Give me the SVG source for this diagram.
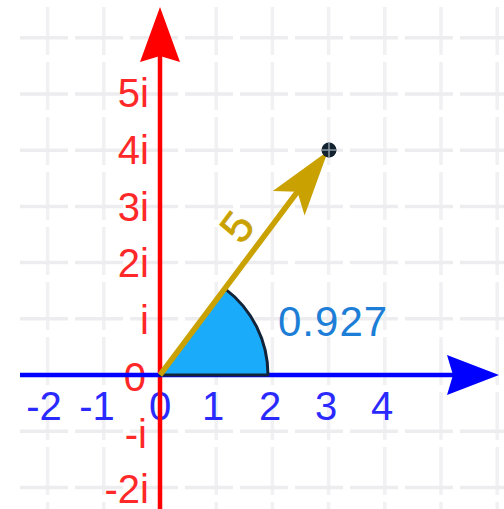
<svg xmlns="http://www.w3.org/2000/svg" width="504" height="509" viewBox="0 0 504 509">
  <style>
    .grid { stroke: #ededef; stroke-width: 3.5; stroke-dasharray: 48 7; fill: none; }
    .gv { stroke: #f1f1f3; }
    .ylab { font-family: "Liberation Sans", Arial, sans-serif; font-size: 40px; fill: #ff2828; text-anchor: end; }
    .xlab { font-family: "Liberation Sans", Arial, sans-serif; font-size: 40px; fill: #2a2aff; text-anchor: middle; }
  </style>
  <rect width="504" height="509" fill="#ffffff"/>
  <g id="grid">
    <line class="grid gv" x1="47.6" y1="7" x2="47.6" y2="509"/>
    <line class="grid gv" x1="103.8" y1="7" x2="103.8" y2="509"/>
    <line class="grid gv" x1="216.2" y1="7" x2="216.2" y2="509"/>
    <line class="grid gv" x1="272.4" y1="7" x2="272.4" y2="509"/>
    <line class="grid gv" x1="328.6" y1="7" x2="328.6" y2="509"/>
    <line class="grid gv" x1="384.8" y1="7" x2="384.8" y2="509"/>
    <line class="grid gv" x1="441" y1="7" x2="441" y2="509"/>
    <line class="grid gv" x1="497.2" y1="7" x2="497.2" y2="509"/>
    <line class="grid" x1="20" y1="37.8" x2="504" y2="37.8"/>
    <line class="grid" x1="20" y1="94" x2="504" y2="94"/>
    <line class="grid" x1="20" y1="150.2" x2="504" y2="150.2"/>
    <line class="grid" x1="20" y1="206.4" x2="504" y2="206.4"/>
    <line class="grid" x1="20" y1="262.6" x2="504" y2="262.6"/>
    <line class="grid" x1="20" y1="318.8" x2="504" y2="318.8"/>
    <line class="grid" x1="20" y1="431.2" x2="504" y2="431.2"/>
    <line class="grid" x1="20" y1="487.4" x2="504" y2="487.4"/>
  </g>
  <g id="y-labels">
    <text class="ylab" x="149" y="107">5i</text>
    <text class="ylab" x="149" y="164">4i</text>
    <text class="ylab" x="149" y="221">3i</text>
    <text class="ylab" x="149" y="277">2i</text>
    <text class="ylab" x="149" y="334">i</text>
    <text class="ylab" x="146" y="391">0</text>
    <text class="ylab" x="147" y="448">-i</text>
    <text class="ylab" x="149" y="503">-2i</text>
  </g>
  <g id="x-labels">
    <text class="xlab" x="44" y="420">-2</text>
    <text class="xlab" x="97" y="420">-1</text>
    <text class="xlab" x="160" y="420">0</text>
    <text class="xlab" x="213" y="420">1</text>
    <text class="xlab" x="270" y="420">2</text>
    <text class="xlab" x="326" y="420">3</text>
    <text class="xlab" x="382" y="420">4</text>
  </g>
  <g id="imaginary-axis">
    <line x1="160" y1="509" x2="160" y2="55" stroke="#ff0000" stroke-width="4.5"/>
    <path d="M160,7 L180,62 L160,56 L140,62 Z" fill="#ff0000"/>
  </g>
  <g id="real-axis">
    <line x1="20" y1="375" x2="455" y2="375" stroke="#0000ff" stroke-width="4.5"/>
    <path d="M499,375 L447,395 L453,375 L447,355 Z" fill="#0000ff"/>
  </g>
  <g id="angle">
    <path d="M160,375 L268,375 A108,108 0 0 0 224.8,288.6 Z" fill="#1aabfa" stroke="#13243a" stroke-width="3" stroke-linejoin="round"/>
    <text x="278" y="336" font-family="'Liberation Sans', Arial, sans-serif" font-size="42" letter-spacing="1" fill="#1c7ed6">0.927</text>
  </g>
  <g id="connectors">
    <g id="vector">
      <line x1="160" y1="375" x2="298" y2="191" stroke="#c9a100" stroke-width="5.5"/>
      <path d="M328,151 L304.6,215.4 L297.4,191.8 L272.8,191 Z" fill="#c9a100"/>
      <text transform="translate(237,227) rotate(-53.13)" x="0" y="15" text-anchor="middle" font-family="'Liberation Sans', Arial, sans-serif" font-size="44" fill="#c9a100" stroke="#c9a100" stroke-width="0.8">5</text>
    </g>
  </g>
  <g id="point">
    <circle cx="329" cy="150" r="7.5" fill="#13222f"/>
    <path d="M329,143 V157 M322,150 H336" stroke="#8c9aa5" stroke-width="1.5"/>
  </g>
</svg>
